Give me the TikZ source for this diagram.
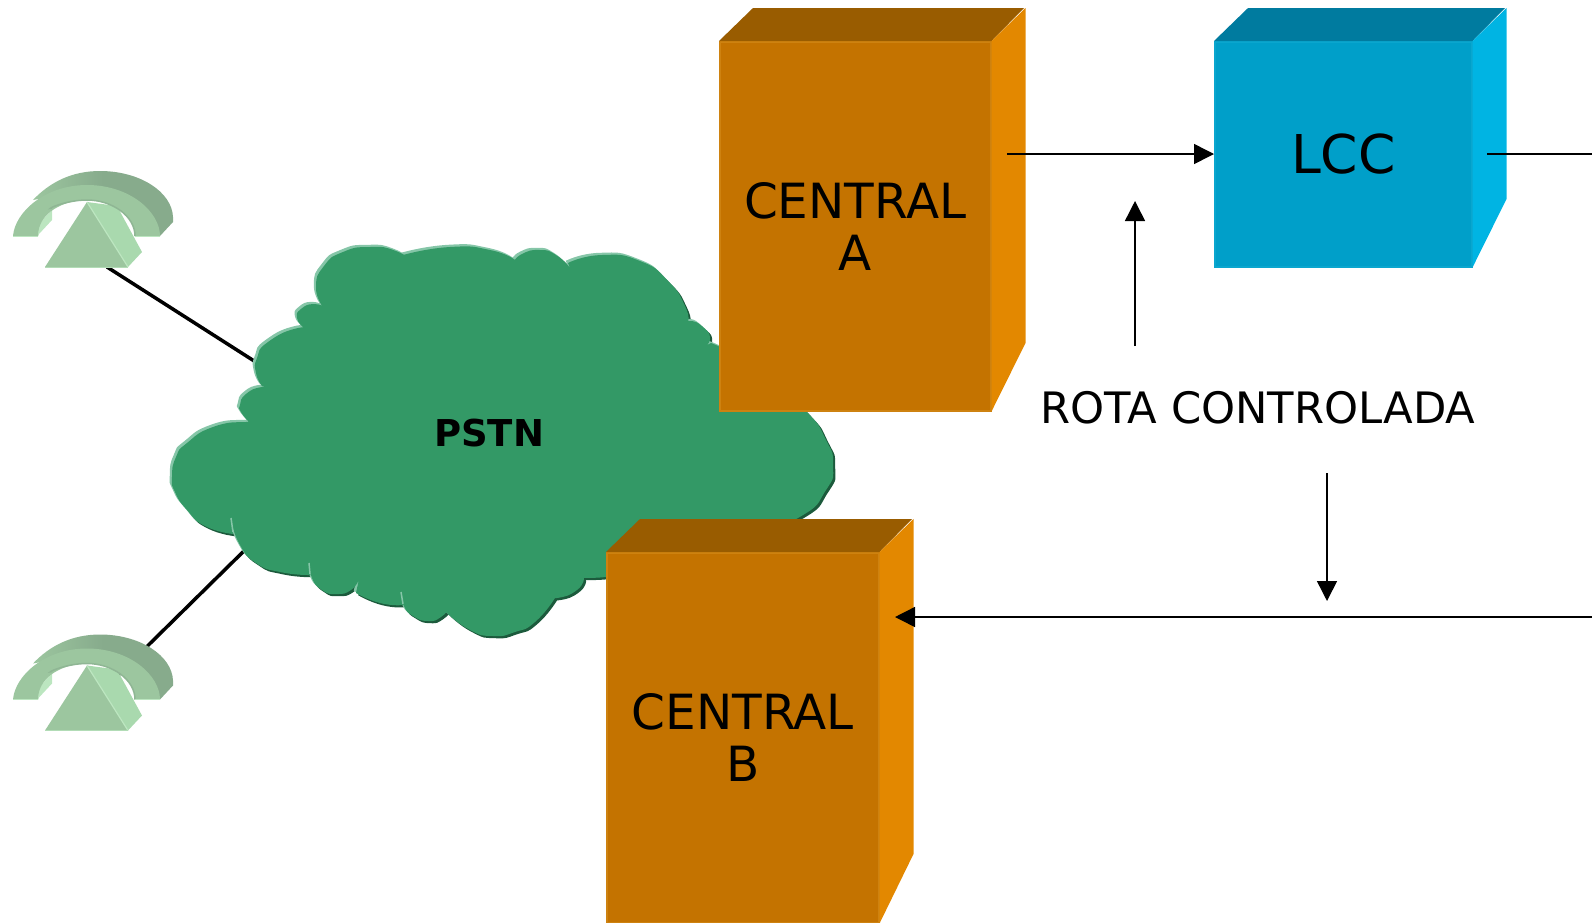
\documentclass[tikz,border=0pt]{standalone}
\usepackage{fontspec}
\setmainfont{DejaVu Sans}
\usetikzlibrary{arrows.meta}

\definecolor{cloudgreen}{HTML}{339966}
\definecolor{cloudlight}{HTML}{86C6A8}
\definecolor{clouddark}{HTML}{1C5A3C}
\definecolor{phonefront}{HTML}{9CC69F}
\definecolor{phoneside}{HTML}{A9D9AE}
\definecolor{phoneedge}{HTML}{BCE6C0}
\definecolor{phonedark}{HTML}{87AB8C}
\definecolor{orangefront}{HTML}{C47300}
\definecolor{orangeedge}{HTML}{CE8210}
\definecolor{orangetop}{HTML}{995C00}
\definecolor{orangeside}{HTML}{E38800}
\definecolor{bluefront}{HTML}{009FC9}
\definecolor{blueedge}{HTML}{0AA6CE}
\definecolor{bluetop}{HTML}{007B9F}
\definecolor{blueside}{HTML}{00B4E3}

\pgfdeclarehorizontalshading{phonetop}{100bp}{color(0bp)=(phonefront); color(25bp)=(phonefront); color(50bp)=(phonedark); color(60bp)=(phonedark); color(75bp)=(phonedark); color(100bp)=(phoneedge)}

% outline of the cloud, lobe by lobe
\newcommand{\cloudoutline}{
  plot[lobe] coordinates {(233,534) (205,526) (187,510) (175,492) (172,477) (176,457) (187,443) (213,427) (245,422) (251,425)}
  -- plot[lobe] coordinates {(249,422) (241,412) (240,405) (246,394) (262,387) (275,389)}
  -- plot[lobe] coordinates {(262,386) (256,373) (257,358) (268,342) (298,328) (314,331)}
  -- plot[lobe] coordinates {(303,327) (297,318) (301,309) (314,304) (326,308)}
  -- plot[lobe] coordinates {(323,307) (316,287) (324,266) (343,252) (370,247) (396,251) (414,263)}
  -- plot[lobe] coordinates {(403,255) (450,247) (490,250) (515,260)}
  -- plot[lobe] coordinates {(513,263) (522,254) (540,250) (556,255) (570,268)}
  -- plot[lobe] coordinates {(568,263) (602,255) (640,261) (668,281) (685,306) (688,322)}
  -- plot[lobe] coordinates {(682,324) (692,321) (704,328) (710,337) (707,345)}
  -- plot[lobe] coordinates {(711,343) (760,370) (805,410) (826,440) (833,465) (826,490) (798,518) (740,540)}
  -- plot[lobe] coordinates {(640,570) (606,577) (573,577)}
  -- plot[lobe] coordinates {(584,578) (577,590) (557,598) (544,595)}
  -- plot[lobe] coordinates {(555,598) (535,622) (515,632) (493,636) (470,630) (446,612)}
  -- plot[lobe] coordinates {(449,608) (441,617) (428,621) (413,616) (404,606) (401,592)}
  -- plot[lobe] coordinates {(403,605) (380,603) (356,593)}
  -- plot[lobe] coordinates {(359,579) (351,590) (336,594) (322,590) (312,578) (310,563)}
  -- plot[lobe] coordinates {(310,575) (280,572) (256,563) (240,545) (231,520)}
  -- cycle
}

\newcommand{\boxfaces}[5]{
  \fill[#4] (#1.north west) -- ++(34,-33) -- ++(#2,0) -- (#1.north east) -- cycle;
  \fill[#5] (#1.north east) -- ++(34,-33) -- ++(0,#3) -- (#1.south east) -- cycle;
}

\tikzset{
  lobe/.style={smooth,tension=1},
  phone/.pic={
    \shade[shading=phonetop]
      (33,50) .. controls (50,32) and (72,21) .. (100,21)
      .. controls (140,21) and (172,42) .. (173,67) -- (173,72) -- (160,86) -- (140,60) -- (87,40) -- cycle;
    \fill[phoneedge] (38,86) .. controls (36,76) and (42,70) .. (52,60) -- (52,70) -- (39,84) -- cycle;
    \fill[phoneside] (87,52) -- (117,56) -- (142,102) -- (128,117) -- cycle;
    \fill[phonefront]
      (13,86) .. controls (15,62) and (45,35) .. (87,35)
      .. controls (130,35) and (160,62) .. (160,86) -- (135,86)
      .. controls (135,66) and (112,50) .. (87,50)
      .. controls (65,50) and (38,62) .. (38,86) -- cycle;
    \draw[phonedark!60!phonefront,line width=1.5pt] (135,86) .. controls (135,66) and (112,50) .. (87,50)
      .. controls (65,50) and (45,60) .. (52,58);
    \draw[phoneedge,line width=1pt] (13,86) -- (38,86) (135,86) -- (160,86);
    \fill[phonefront] (87,52) -- (128,117) -- (45,117) -- cycle;
    \draw[phoneedge,line width=1.2pt] (87,52) -- (128,117);
    \draw[phoneedge!70!phonefront,line width=1pt] (45,117) -- (128,117);
  },
  boxfront/.style={inner sep=0pt,align=center,font=\fontsize{48.5}{52}\selectfont,anchor=north west,line width=1.5pt},
  link/.style={line width=1.5pt,-{Triangle[length=20pt,width=20pt]}},
  plainlink/.style={line width=1.5pt},
  phoneline/.style={line width=3.5pt}
}

\begin{document}
\begin{tikzpicture}[x=1pt,y=-1pt]
  \useasboundingbox (0,0) rectangle (1592,922);

  \coordinate (phoneA) at (107,267);
  \coordinate (phoneB) at (116,677);
  \coordinate (cloudA) at (262,366);
  \coordinate (cloudB) at (252,543);
  \draw[phoneline] (phoneA) -- (cloudA);
  \draw[phoneline] (phoneB) -- (cloudB);

  % cloud: dark and light copies under the fill
  \fill[clouddark,xshift=2.2pt,yshift=-2.2pt] \cloudoutline;
  \fill[cloudlight,xshift=-2.2pt,yshift=2.2pt] \cloudoutline;
  \fill[cloudgreen] \cloudoutline;
  \draw[cloudlight,line width=1.5pt] (231,518) -- (233,532) (309,563) -- (310,574) (401,592) -- (403,604);
  \node[font=\fontsize{37}{40}\selectfont\bfseries] (pstn) at (489,433) {PSTN};

  \pic at (0,150) {phone};
  \pic at (0,613.5) {phone};

  \node[boxfront,fill=orangefront,draw=orangeedge,minimum width=271pt,minimum height=369pt] (centralA) at (719,41) {CENTRAL\\A};
  \boxfaces{centralA}{271}{335}{orangetop}{orangeside}
  \node[boxfront,fill=orangefront,draw=orangeedge,minimum width=272pt,minimum height=370pt] (centralB) at (606,552) {CENTRAL\\B};
  \boxfaces{centralB}{272}{335}{orangetop}{orangeside}
  \node[boxfront,fill=bluefront,draw=blueedge,minimum width=257pt,minimum height=225pt,font=\fontsize{53.5}{56}\selectfont] (lcc) at (1214,41) {LCC};
  \boxfaces{lcc}{257}{191}{bluetop}{blueside}

  \node[font=\fontsize{43.3}{46}\selectfont] (rota) at (1258,408) {ROTA CONTROLADA};

  \coordinate (outA) at (1007,154);
  \coordinate (outLcc) at (1487,154);
  \coordinate (edgeTop) at (1592,154);
  \coordinate (edgeLow) at (1592,617);
  \coordinate (inB) at (895,617);
  \coordinate (upFrom) at (1135,346);
  \coordinate (upTo) at (1135,201);
  \coordinate (downFrom) at (1327,473);
  \coordinate (downTo) at (1327,601);

  \draw[link] (outA) -- (lcc.west |- outA);
  \draw[plainlink] (outLcc) -- (edgeTop);
  \draw[link] (upFrom) -- (upTo);
  \draw[link] (downFrom) -- (downTo);
  \draw[link] (edgeLow) -- (inB);
\end{tikzpicture}
\end{document}
